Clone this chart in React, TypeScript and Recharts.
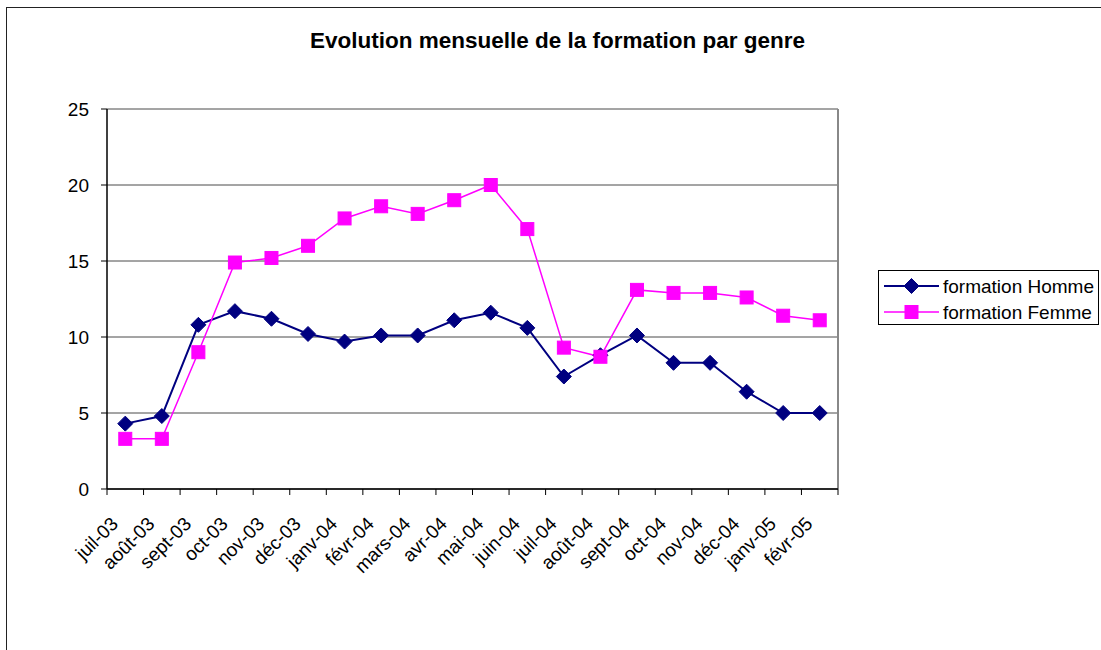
import React from 'react';
import { LineChart, Line, XAxis, YAxis, CartesianGrid } from 'recharts';

const months = [
  'juil-03', 'août-03', 'sept-03', 'oct-03', 'nov-03', 'déc-03',
  'janv-04', 'févr-04', 'mars-04', 'avr-04', 'mai-04', 'juin-04',
  'juil-04', 'août-04', 'sept-04', 'oct-04', 'nov-04', 'déc-04',
  'janv-05', 'févr-05',
];
const homme = [4.3, 4.8, 10.8, 11.7, 11.2, 10.2, 9.7, 10.1, 10.1, 11.1, 11.6, 10.6, 7.4, 8.8, 10.1, 8.3, 8.3, 6.4, 5.0, 5.0];
const femme = [3.3, 3.3, 9.0, 14.9, 15.2, 16.0, 17.8, 18.6, 18.1, 19.0, 20.0, 17.1, 9.3, 8.7, 13.1, 12.9, 12.9, 12.6, 11.4, 11.1];
const yTicks = [0, 5, 10, 15, 20, 25];
const seriesNames = ['formation Homme', 'formation Femme'];
const chartTitle = 'Evolution mensuelle de la formation par genre';

const data = months.map((m, i) => ({ month: m, homme: homme[i], femme: femme[i] }));

const FONT = '"Liberation Sans", Arial, sans-serif';
const HOMME_COLOR = '#000080';
const FEMME_COLOR = '#FF00FF';

const CHART_W = 1094;
const CHART_H = 642;
const MARGIN = { top: 101, right: 263, bottom: 81, left: 40 };
const Y_AXIS_W = 60;
const X_AXIS_H = 80;
const PLOT_W = CHART_W - MARGIN.left - MARGIN.right - Y_AXIS_W;
const STEP = PLOT_W / months.length;

const Diamond = (props: any) => {
  const { cx, cy } = props;
  if (cx == null || cy == null) return null;
  const r = 7.5;
  return (
    <polygon
      points={`${cx},${cy - r} ${cx + r},${cy} ${cx},${cy + r} ${cx - r},${cy}`}
      fill={HOMME_COLOR}
      stroke={HOMME_COLOR}
      strokeWidth={1}
    />
  );
};

const Square = (props: any) => {
  const { cx, cy } = props;
  if (cx == null || cy == null) return null;
  const s = 13;
  return <rect x={cx - s / 2} y={cy - s / 2} width={s} height={s} fill={FEMME_COLOR} stroke={FEMME_COLOR} strokeWidth={1} />;
};

const XTick = (props: any) => {
  const { x, y, payload } = props;
  const idx = payload && payload.index != null ? payload.index : props.index;
  const last = idx === months.length - 1;
  const lx = x - 6;
  const ly = y + 36;
  return (
    <g>
      <line x1={x - STEP / 2} y1={y} x2={x - STEP / 2} y2={y + 6} stroke="#000" strokeWidth={1} />
      {last && <line x1={x + STEP / 2} y1={y} x2={x + STEP / 2} y2={y + 6} stroke="#000" strokeWidth={1} />}
      <text
        x={lx}
        y={ly}
        textAnchor="end"
        fontSize={19}
        fontFamily={FONT}
        fill="#000"
        transform={`rotate(-45, ${lx}, ${ly})`}
      >
        {payload.value}
      </text>
    </g>
  );
};

const LegendBox = () => (
  <div style={{ position: 'absolute', left: 871, top: 262, width: 221, height: 55, border: '1px solid #000', boxSizing: 'border-box', background: '#fff' }}>
    <svg width={219} height={53} style={{ display: 'block' }}>
      <line x1={5} y1={15} x2={60} y2={15} stroke={HOMME_COLOR} strokeWidth={2} />
      <Diamond cx={32.5} cy={15} />
      <text x={64} y={15} dy="0.35em" fontSize={19} fontFamily={FONT} fill="#000">{seriesNames[0]}</text>
      <line x1={5} y1={41} x2={60} y2={41} stroke={FEMME_COLOR} strokeWidth={1.5} />
      <Square cx={32.5} cy={41} />
      <text x={64} y={41} dy="0.35em" fontSize={19} fontFamily={FONT} fill="#000">{seriesNames[1]}</text>
    </svg>
  </div>
);

export default function App() {
  return (
    <div
      style={{
        position: 'absolute',
        left: 6,
        top: 7,
        width: 1110,
        height: 660,
        border: '1px solid #222',
        background: '#fff',
        fontFamily: FONT,
      }}
    >
      <div
        style={{
          position: 'absolute',
          left: 0,
          top: 20,
          width: 1101,
          textAlign: 'center',
          fontSize: 22.5,
          fontWeight: 'bold',
          lineHeight: '26px',
          color: '#000',
        }}
      >
        {chartTitle}
      </div>
      <div style={{ position: 'absolute', left: 0, top: 0 }}>
        <LineChart width={CHART_W} height={CHART_H} data={data} margin={MARGIN}>
          <CartesianGrid vertical={false} stroke="#4a4a4a" strokeWidth={1} />
          <CartesianGrid
            horizontal={false}
            stroke="#888"
            strokeWidth={2}
            verticalCoordinatesGenerator={(p: any) => [p.offset.left + p.offset.width]}
          />
          <XAxis
            dataKey="month"
            interval={0}
            height={X_AXIS_H}
            padding={{ left: STEP / 2, right: STEP / 2 }}
            tickLine={false}
            tickSize={0}
            tickMargin={0}
            axisLine={{ stroke: '#000', strokeWidth: 1.5 }}
            tick={XTick}
          />
          <YAxis
            width={Y_AXIS_W}
            domain={[0, 25]}
            ticks={yTicks}
            interval={0}
            tickSize={6}
            tickMargin={12}
            tickLine={{ stroke: '#000' }}
            axisLine={{ stroke: '#000', strokeWidth: 1.5 }}
            tick={{ fontSize: 19, fill: '#000', fontFamily: FONT }}
          />
          <Line
            type="linear"
            dataKey="homme"
            name={seriesNames[0]}
            stroke={HOMME_COLOR}
            strokeWidth={2}
            dot={<Diamond />}
            activeDot={false}
            isAnimationActive={false}
          />
          <Line
            type="linear"
            dataKey="femme"
            name={seriesNames[1]}
            stroke={FEMME_COLOR}
            strokeWidth={1.5}
            dot={<Square />}
            activeDot={false}
            isAnimationActive={false}
          />
        </LineChart>
      </div>
      <LegendBox />
    </div>
  );
}
